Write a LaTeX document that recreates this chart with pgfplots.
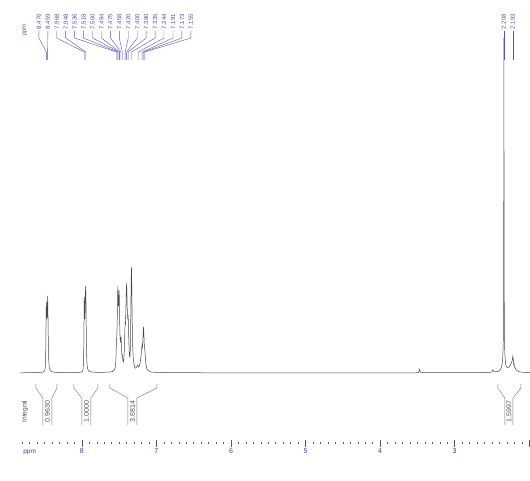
\documentclass[border=0pt]{standalone}
\usepackage{fontspec}
\setmainfont{Liberation Sans}
\usepackage{pgfplots}
\pgfplotsset{compat=1.18}
\usepackage{pgfplotstable}
\definecolor{labcol}{RGB}{85,85,185}
\definecolor{tickcol}{RGB}{60,60,170}
\definecolor{speccol}{RGB}{70,70,70}
\definecolor{intcol}{RGB}{120,120,120}
\definecolor{inttext}{RGB}{80,80,90}

\pgfplotstableread{
ppm y
8.83 70.2
8.70 70.3
8.60 70.4
8.55 70.6
8.52 71
8.505 71.8
8.497 73
8.491 76
8.487 82
8.484 95
8.481 118
8.478 136
8.476 141
8.473 132
8.469 124
8.466 127
8.462 139
8.459 147
8.456 136
8.452 112
8.448 92
8.444 82
8.439 77
8.432 74
8.422 72.3
8.40 71.3
8.36 70.7
8.25 70.4
8.10 70.4
8.03 70.6
8.00 71.2
7.99 72
7.984 74
7.979 79
7.975 93
7.971 125
7.968 146
7.965 135
7.961 124
7.957 133
7.953 150
7.948 157
7.944 136
7.940 106
7.936 88
7.932 80
7.926 75.5
7.917 73
7.90 71.8
7.87 71
7.80 70.6
7.70 70.7
7.62 71
7.58 71.8
7.565 73
7.555 75
7.548 78
7.543 84
7.539 95
7.536 103
7.532 106
7.527 118
7.522 140
7.518 157
7.514 148
7.509 137
7.505 141
7.500 153
7.497 140
7.494 124
7.490 110
7.485 102
7.480 101
7.475 106
7.470 98
7.465 90
7.461 87
7.458 88
7.454 85
7.449 82
7.444 81
7.438 84
7.432 91
7.427 104
7.420 120
7.415 119
7.410 132
7.405 150
7.400 160
7.396 150
7.391 133
7.386 124
7.380 128
7.376 120
7.371 104
7.366 93
7.361 87
7.356 86
7.351 92
7.347 108
7.343 135
7.339 162
7.335 176
7.331 160
7.327 132
7.322 108
7.317 94
7.311 85
7.303 80
7.295 77
7.285 75
7.275 75
7.265 76
7.257 77.5
7.250 78
7.244 77
7.237 76
7.230 77
7.222 79
7.215 82
7.207 87
7.200 93
7.195 97
7.191 98
7.187 96
7.183 101
7.178 110
7.173 116
7.169 111
7.165 101
7.160 95
7.155 93
7.151 89
7.146 83
7.140 78
7.132 75
7.12 73
7.10 71.8
7.07 71
7.00 70.6
6.80 70.3
6.00 70.2
5.00 70.2
4.00 70.2
3.52 70.2
3.49 70.4
3.478 71.5
3.472 73.5
3.466 72
3.455 70.6
3.40 70.3
3.00 70.3
2.60 70.4
2.52 70.6
2.50 71.3
2.495 72.5
2.49 73.2
2.485 72.5
2.475 71.5
2.45 71.2
2.42 71.5
2.40 72.5
2.385 74
2.372 76.5
2.362 80
2.355 86
2.350 96
2.347 110
2.344 150
2.342 240
2.340 405
2.338 240
2.336 150
2.333 110
2.330 96
2.325 86
2.318 80
2.308 77
2.295 75.5
2.280 75.5
2.265 76.5
2.250 78.5
2.238 80.5
2.230 82
2.224 85
2.219 87
2.214 83
2.209 79
2.205 80
2.200 77
2.190 75
2.175 73
2.15 71.8
2.12 71
2.06 70.6
1.99 70.4
}\spectrum

% peak label: #1 label x (ppm), #2 peak ppm, #3 text
\newcommand{\plab}[3]{%
  \draw[labcol, line width=0.4pt] (axis cs:#1,412) -- (axis cs:#1,405) -- (axis cs:#2,391) -- (axis cs:#2,383);
  \node[rotate=90, anchor=west, inner sep=0pt, text=labcol, font=\fontsize{6}{7}\selectfont] at (axis cs:#1,413.5) {#3};}
% integral: #1 outer left, #2 box left, #3 box right, #4 outer right, #5 centre, #6 text
\newcommand{\integ}[6]{%
  \draw[intcol, line width=0.4pt] (axis cs:#1,59) -- (axis cs:#1,55) -- (axis cs:#2,45) -- (axis cs:#2,18);
  \draw[intcol, line width=0.4pt] (axis cs:#4,59) -- (axis cs:#4,55) -- (axis cs:#3,45) -- (axis cs:#3,18);
  \node[rotate=90, inner sep=0pt, text=inttext, font=\fontsize{7}{8}\selectfont] at (axis cs:#5,31.5) {#6};}

\begin{document}
\begin{tikzpicture}
\useasboundingbox (0,0) rectangle (530pt,480pt);
\begin{axis}[
  at={(20pt,37pt)}, anchor=south west,
  scale only axis, width=510pt, height=443pt,
  xmin=1.99, xmax=8.83, ymin=0, ymax=443,
  x dir=reverse,
  axis y line=none,
  axis x line*=bottom,
  x axis line style={draw=none},
  xtick={3,4,5,6,7,8},
  extra x ticks={2},
  extra x tick labels={},
  minor xtick={2.1,2.2,...,8.8},
  xtick align=center,
  major tick length=7pt,
  minor tick length=2.5pt,
  tick style={color=black!65, line width=0.5pt},
  xticklabel style={font=\fontsize{7}{8}\selectfont, text=tickcol, yshift=1pt},
  /pgf/number format/assume math mode=true,
  clip=false,
]
\addplot[speccol, line width=0.5pt, no marks] table[x=ppm, y=y] {\spectrum};

\plab{8.577}{8.476}{8.476}
\plab{8.457}{8.459}{8.459}
\plab{8.337}{7.968}{7.968}
\plab{8.217}{7.948}{7.948}
\plab{8.097}{7.536}{7.536}
\plab{7.977}{7.518}{7.518}
\plab{7.857}{7.500}{7.500}
\plab{7.737}{7.494}{7.494}
\plab{7.617}{7.475}{7.475}
\plab{7.498}{7.458}{7.458}
\plab{7.378}{7.420}{7.420}
\plab{7.258}{7.400}{7.400}
\plab{7.138}{7.380}{7.380}
\plab{7.018}{7.335}{7.335}
\plab{6.898}{7.244}{7.244}
\plab{6.778}{7.191}{7.191}
\plab{6.658}{7.173}{7.173}
\plab{6.538}{7.155}{7.155}
\plab{2.340}{2.340}{2.208}
\plab{2.219}{2.219}{2.193}

\node[rotate=90, anchor=west, inner sep=0pt, text=labcol, font=\fontsize{6}{7}\selectfont] at (axis cs:8.764,407) {ppm};

\integ{8.617}{8.523}{8.402}{8.335}{8.463}{0.9630}
\integ{8.107}{8.000}{7.879}{7.785}{7.940}{1.0000}
\integ{7.624}{7.383}{7.262}{6.994}{7.323}{3.6814}
\integ{2.421}{2.327}{2.219}{2.112}{2.273}{1.5997}
\node[rotate=90, inner sep=0pt, text=inttext, font=\fontsize{6.5}{7.5}\selectfont] at (axis cs:8.764,31.5) {Integral};

\node[inner sep=0pt, text=tickcol, font=\fontsize{6.5}{7.5}\selectfont] at (axis cs:8.70,-9) {ppm};
\end{axis}
\end{tikzpicture}
\end{document}
